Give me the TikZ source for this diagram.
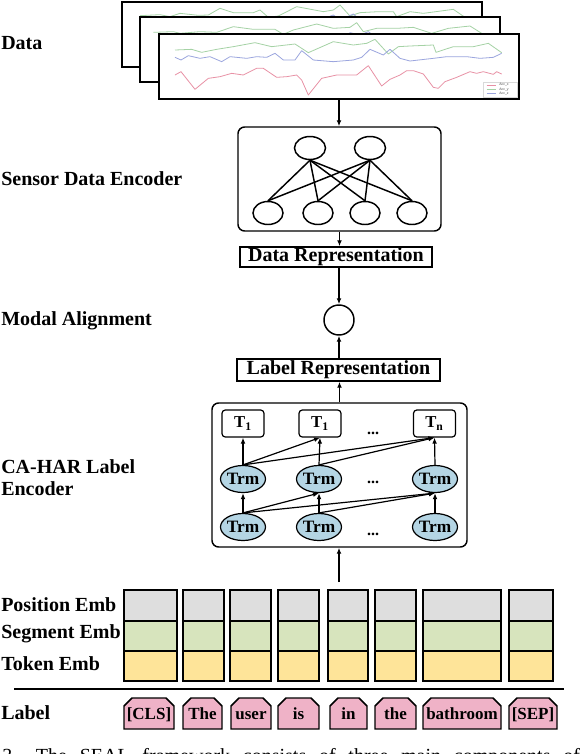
\documentclass[tikz,border=0pt]{standalone}
\usepackage{fontspec}
\setmainfont{Liberation Serif}
\newfontfamily\legendfont{Liberation Sans}
\usetikzlibrary{arrows.meta,shapes.geometric}
\definecolor{gr}{RGB}{222,222,222}
\definecolor{ge}{RGB}{215,228,189}
\definecolor{ye}{RGB}{254,228,153}
\definecolor{pk}{RGB}{239,178,199}
\definecolor{lb}{RGB}{180,213,228}
\definecolor{cg}{RGB}{165,210,165}
\definecolor{cb}{RGB}{155,165,222}
\definecolor{cr}{RGB}{232,145,165}
\begin{document}
\begin{tikzpicture}[x=0.75pt,y=-0.75pt,
  lbl/.style={anchor=west,inner sep=0pt,font=\fontsize{15}{16.5}\selectfont\bfseries,align=left},
  arr/.style={line width=0.9pt,-{Latex[length=4.5pt,width=3.6pt]}},
  panel/.style={draw,line width=1.5pt,fill=white,inner sep=0pt,minimum width=270pt,minimum height=48.75pt},
  chart/.style={line width=0.6pt,line join=round},
  bigbox/.style={draw,line width=1.1pt,rounded corners=5pt,inner sep=0pt},
  neuron/.style={draw,ellipse,line width=1.1pt,inner sep=0pt,minimum height=17.25pt},
  netline/.style={line width=1.1pt},
  repbox/.style={draw,line width=1.1pt,inner sep=0pt,font=\fontsize{15}{16}\selectfont\bfseries},
  tout/.style={draw,line width=0.9pt,rounded corners=2.5pt,minimum width=31.5pt,minimum height=20.25pt,inner sep=0pt,font=\fontsize{12.5}{13}\selectfont\bfseries},
  trm/.style={draw,ellipse,fill=lb,line width=0.9pt,minimum width=33.75pt,minimum height=20.25pt,inner sep=0pt,font=\fontsize{13}{14}\selectfont\bfseries},
  dotstxt/.style={anchor=base,inner sep=0pt,font=\fontsize{12}{13}\selectfont\bfseries},
  emb/.style={draw,line width=1.1pt},
  tok/.style={draw,line width=1.1pt,fill=pk},
  toktxt/.style={anchor=base,inner sep=0pt,font=\fontsize{12.75}{13}\selectfont\bfseries},
  legtxt/.style={anchor=west,inner sep=0pt,font=\legendfont\fontsize{2.6}{3}\selectfont,text=black!70},
]
\useasboundingbox (0,0) rectangle (580,754);

% ---------- left labels ----------
\node[lbl] (lData) at (1,43) {Data};
\node[lbl] (lSens) at (1,179) {Sensor Data Encoder};
\node[lbl] (lModal) at (1,321) {Modal Alignment};
\node[lbl] (lCA) at (1,478) {CA-HAR Label\\Encoder};
\node[lbl] (lPos) at (1,605) {Position Emb};
\node[lbl] (lSeg) at (1,634) {Segment Emb};
\node[lbl] (lTok) at (1,664) {Token Emb};
\node[lbl] (lLab) at (1,713) {Label};

% ---------- data panels ----------
\node[panel] (p1) at (302,34) {};
\begin{scope}[shift={(120,0)},scale=1/3]
  \clip (p1.south west) rectangle (p1.north east);
  \draw[chart,cg] (60,47) -- (120,44) -- (150,50) -- (180,40) -- (235,46) -- (265,45) -- (300,25) -- (340,38) -- (400,38) -- (420,30) -- (445,52) -- (475,48) -- (530,20) -- (610,35) -- (640,30) -- (660,15) -- (690,48) -- (720,38) -- (775,35) -- (820,35) -- (830,50) -- (870,35) -- (910,40) -- (1000,28) -- (1035,52);
  \draw[chart,cb] (600,60) -- (640,45) -- (660,60) -- (700,42) -- (720,60);
\end{scope}
\node[panel] (p2) at (319.5,49.5) {};
\begin{scope}[shift={(120,0)},scale=1/3]
  \clip (p2.south west) rectangle (p2.north east);
  \draw[chart,cg] (100,97) -- (160,95) -- (180,100) -- (240,95) -- (290,97) -- (340,80) -- (400,88) -- (465,88) -- (490,103) -- (520,90) -- (590,72) -- (640,85) -- (690,82) -- (710,68) -- (730,95) -- (770,85) -- (830,85) -- (880,82) -- (935,100) -- (985,85) -- (1050,78) -- (1085,100);
  \draw[chart,cb] (680,110) -- (690,98) -- (720,105) -- (745,95) -- (755,102) -- (770,110);
\end{scope}
\node[panel] (p3) at (339,66.5) {};
\begin{scope}[shift={(120,0)},scale=1/3]
  \clip (p3.south west) rectangle (p3.north east);
  \draw[chart,cg] (165,150) -- (215,148) -- (245,157) -- (290,148) -- (340,140) -- (405,128) -- (455,140) -- (525,132) -- (565,158) -- (640,125) -- (700,135) -- (740,130) -- (765,118) -- (805,162) -- (835,140) -- (870,138) -- (940,135) -- (948,157) -- (1000,140) -- (1060,140) -- (1105,130) -- (1145,158);
  \draw[chart,cb] (165,172) -- (183,180) -- (205,167) -- (240,175) -- (270,170) -- (305,185) -- (330,170) -- (380,175) -- (410,170) -- (440,172) -- (465,160) -- (490,180) -- (525,180) -- (545,152) -- (580,180) -- (640,185) -- (700,180) -- (725,172) -- (750,148) -- (790,165) -- (810,148) -- (840,175) -- (870,183) -- (940,175) -- (980,170) -- (1040,170) -- (1080,175) -- (1120,172) -- (1145,160);
  \draw[chart,cr] (165,225) -- (183,215) -- (225,268) -- (265,235) -- (300,230) -- (335,220) -- (370,225) -- (410,205) -- (430,205) -- (470,232) -- (500,230) -- (530,225) -- (545,240) -- (565,285) -- (605,235) -- (650,225) -- (710,225) -- (745,197) -- (785,258) -- (810,238) -- (840,225) -- (860,212) -- (880,212) -- (910,222) -- (940,262) -- (955,265) -- (975,245) -- (1010,232) -- (1050,215) -- (1070,220) -- (1090,215) -- (1120,223) -- (1130,215) -- (1145,222);
\end{scope}
% legend
\draw[black!15,line width=0.3pt] (483,82) rectangle (517,97);
\draw[cr,line width=0.5pt] (486.5,85) -- (496,85);
\draw[cg,line width=0.5pt] (486.5,89.3) -- (496,89.3);
\draw[cb,line width=0.5pt] (486.5,93.3) -- (496,93.3);
\node[legtxt] (lgx) at (499,85) {Acc\_x};
\node[legtxt] (lgy) at (499,89.3) {Acc\_y};
\node[legtxt] (lgz) at (499,93.3) {Acc\_z};

% ---------- sensor data encoder ----------
\node[bigbox,minimum width=152.25pt,minimum height=78pt] (sensor) at (339.5,179) {};
\node[neuron,minimum width=23.25pt] (n1) at (310,148) {};
\node[neuron,minimum width=23.25pt] (n2) at (370,148) {};
\node[neuron,minimum width=22.5pt] (m1) at (268,213) {};
\node[neuron,minimum width=22.5pt] (m2) at (318,213) {};
\node[neuron,minimum width=22.5pt] (m3) at (365,213) {};
\node[neuron,minimum width=22.5pt] (m4) at (412,213) {};
\foreach \i in {1,2}{\foreach \j in {1,...,4}{\draw[netline] (n\i.south) -- (m\j.north);}}
\draw[arr] (p3.south) -- (p3.south |- sensor.north);

% ---------- representations ----------
\node[repbox,minimum width=144pt,minimum height=15pt] (datarep) at (336,257) {Data Representation};
\node[draw,circle,line width=1.1pt,minimum size=22.5pt,inner sep=0pt] (align) at (339,320) {};
\node[repbox,minimum width=152.25pt,minimum height=16.5pt] (labrep) at (338.5,370) {Label Representation};
\draw[arr] (sensor.south) -- (sensor.south |- datarep.north);
\draw[arr] (align.north |- datarep.south) -- (align.north);
\draw[arr] (align.south |- labrep.north) -- (align.south);

% ---------- label encoder ----------
\node[bigbox,minimum width=191.25pt,minimum height=108pt] (enc) at (339.5,475) {};
\draw[arr] (enc.north) -- (enc.north |- labrep.south);
\node[tout] (o1) at (243,423.5) {T\textsubscript{1}};
\node[tout] (o2) at (320,423.5) {T\textsubscript{1}};
\node[tout] (o3) at (434.5,423.5) {T\textsubscript{n}};
\node[trm] (ta1) at (243,479) {\makebox[0pt]{Trm}};
\node[trm] (ta2) at (319,479) {\makebox[0pt]{Trm}};
\node[trm] (ta3) at (435,479) {\makebox[0pt]{Trm}};
\node[trm] (tb1) at (243,527) {\makebox[0pt]{Trm}};
\node[trm] (tb2) at (319,527) {\makebox[0pt]{Trm}};
\node[trm] (tb3) at (435,527) {\makebox[0pt]{Trm}};
\node[dotstxt] (d1) at (373,434) {...};
\node[dotstxt] (d2) at (373,483) {...};
\node[dotstxt] (d3) at (373,535) {...};
\foreach \i in {1,2,3}{
  \draw[arr] (tb\i.north) -- (ta\i.south);
  \draw[arr] (ta\i.north) -- (o\i.south);
}
\draw[arr] (tb1.north) -- (ta2.south);
\draw[arr] (tb1.north) -- (ta3.south);
\draw[arr] (tb2.north) -- (ta3.south);
\draw[arr] (ta1.north) -- (o2.south);
\draw[arr] (ta1.north) -- (o3.south);
\draw[arr] (ta2.north) -- (o3.south);

% ---------- embeddings ----------
\foreach \a/\b in {124/177,183/224,230/271,278/319,328/368,375/416,423/501,509/553}{
  \filldraw[emb,fill=gr] (\a,590) rectangle (\b,621);
  \filldraw[emb,fill=ge] (\a,621) rectangle (\b,651);
  \filldraw[emb,fill=ye] (\a,651) rectangle (\b,681);
}
\coordinate (embtop) at (339,582);
\draw[arr] (embtop) -- (embtop |- enc.south);

\draw[line width=1pt] (14,689) -- (564,689);

% ---------- label tokens ----------
\foreach \a/\b/\t [count=\i] in {124/174/{[CLS]},183/222/The,231/271/user,278/319/is,330/367/in,375/416/the,423/501/bathroom,509/557/{[SEP]}}{
  \filldraw[tok] (\a,729) -- (\a,706) -- (\a+8,698) -- (\b-8,698) -- (\b,706) -- (\b,729) -- cycle;
  \node[toktxt] (tok\i) at ({(\a+\b)/2},719) {\t};
}

% ---------- cut-off caption ----------
\begin{scope}
  \clip (0,0) rectangle (580,754);
  \node[anchor=base west,inner sep=0pt,font=\fontsize{15}{16}\selectfont] (cap) at (2,762) {3.\hspace{14pt}\makebox[408pt][s]{The SEAL framework consists of three main components of}};
\end{scope}
\end{tikzpicture}
\end{document}
